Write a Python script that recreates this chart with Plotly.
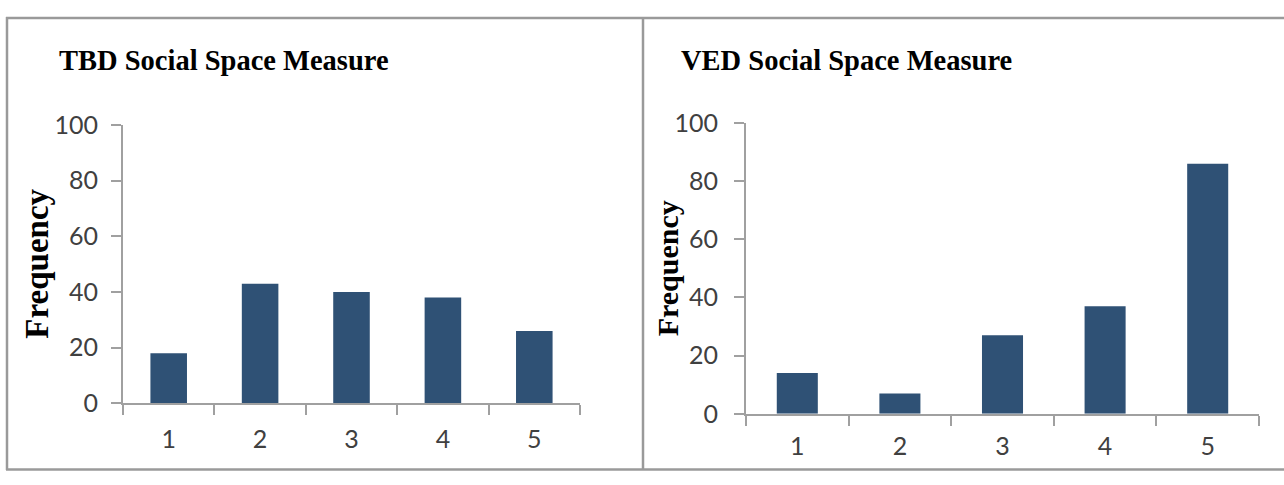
import plotly.graph_objects as go

categories = ["1", "2", "3", "4", "5"]
tbd_values = [18, 43, 40, 38, 26]
ved_values = [14, 7, 27, 37, 86]
y_ticks = [0, 20, 40, 60, 80, 100]
left_title = "TBD Social Space Measure"
right_title = "VED Social Space Measure"
y_label = "Frequency"

W, H = 1284, 485
BAR = "#2F5175"
AX = "#A0A0A0"
TICKFONT = dict(family="Lato, Carlito, sans-serif", size=25, color="#404040")

def px(x):
    return x / W

def py(y):
    return 1 - y / H

fig = go.Figure()
fig.add_trace(go.Bar(x=categories, y=tbd_values, marker=dict(color=BAR, line=dict(width=0)),
                     xaxis="x", yaxis="y", showlegend=False, hoverinfo="skip"))
fig.add_trace(go.Bar(x=categories, y=ved_values, marker=dict(color=BAR, line=dict(width=0)),
                     xaxis="x2", yaxis="y2", showlegend=False, hoverinfo="skip"))

def xaxis_style(standoff):
    return dict(type="category", showgrid=False, zeroline=False, showline=True, linecolor=AX,
                linewidth=2, ticks="outside", ticklen=10, tickwidth=2, tickcolor=AX,
                tickson="boundaries", tickfont=TICKFONT, range=[-0.5, 4.5], fixedrange=True,
                ticklabelstandoff=standoff)

def yaxis_style(standoff):
    return dict(range=[0, 100], tickvals=y_ticks, showgrid=False, zeroline=False, showline=True,
                linecolor=AX, linewidth=2, ticks="outside", ticklen=10, tickwidth=2, tickcolor=AX,
                tickfont=TICKFONT, fixedrange=True, ticklabelstandoff=standoff)

fig.update_layout(
    width=W, height=H, margin=dict(l=0, r=0, t=0, b=0),
    paper_bgcolor="white", plot_bgcolor="white", bargap=0.6,
    xaxis=dict(domain=[px(123), px(580)], anchor="y", **xaxis_style(13)),
    yaxis=dict(domain=[py(413), py(116)], anchor="x", **yaxis_style(8)),
    xaxis2=dict(domain=[px(746), px(1259)], anchor="y2", **xaxis_style(9)),
    yaxis2=dict(domain=[py(424), py(114)], anchor="x2", **yaxis_style(11)),
)

serif = "Liberation Serif, Times New Roman, serif"
fig.add_annotation(text="<b>%s</b>" % left_title, xref="paper", yref="paper", x=px(57), y=py(47),
                   xanchor="left", yanchor="middle", showarrow=False,
                   font=dict(family=serif, size=28.5, color="black"))
fig.add_annotation(text="<b>%s</b>" % right_title, xref="paper", yref="paper", x=px(679), y=py(47),
                   xanchor="left", yanchor="middle", showarrow=False,
                   font=dict(family=serif, size=28.5, color="black"))
fig.add_annotation(text="<b>%s</b>" % y_label, xref="paper", yref="paper", x=px(37), y=py(264),
                   xanchor="center", yanchor="middle", textangle=-90, showarrow=False,
                   font=dict(family=serif, size=33, color="black"))
fig.add_annotation(text="<b>%s</b>" % y_label, xref="paper", yref="paper", x=px(667), y=py(269),
                   xanchor="center", yanchor="middle", textangle=-90, showarrow=False,
                   font=dict(family=serif, size=30, color="black"))

BORDER = "#9A9A9A"
line = dict(color=BORDER, width=2.5)
fig.add_shape(type="line", xref="paper", yref="paper", x0=px(7), x1=px(7), y0=py(1), y1=py(484), line=line)
fig.add_shape(type="line", xref="paper", yref="paper", x0=px(6), x1=1, y0=py(2), y1=py(2), line=line)
fig.add_shape(type="line", xref="paper", yref="paper", x0=px(6), x1=1, y0=py(483.5), y1=py(483.5), line=line)
fig.add_shape(type="line", xref="paper", yref="paper", x0=px(643), x1=px(643), y0=py(1), y1=py(484), line=line)

fig.write_html("out.html", config={"displayModeBar": False},
               post_script="document.body.style.margin='0';document.body.style.overflow='hidden';")
